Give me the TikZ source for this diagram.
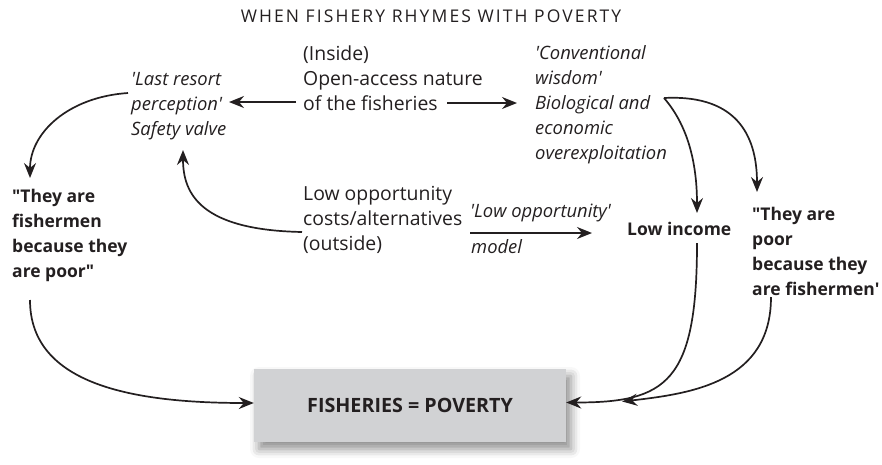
\documentclass[tikz,border=0pt]{standalone}
\usepackage{fontspec}
\setmainfont{Open Sans}
\usetikzlibrary{arrows.meta,shadows.blur}
\definecolor{ink}{HTML}{231F20}
\definecolor{boxgray}{HTML}{D1D2D4}
\newcommand{\sq}{\textquotesingle}
\newcommand{\dq}{\textquotedbl}
% a left-aligned block whose baseline is that of its first line
\newcommand{\lines}[1]{\begin{tabular}[t]{@{}l@{}}#1\end{tabular}}
\begin{document}
\begin{tikzpicture}[x=1pt,y=-1pt,
  txt/.style={anchor=base west,inner sep=0pt,text=ink,
    font=\fontsize{19.4}{25}\selectfont},
  itxt/.style={txt,font=\fontsize{18.4}{25}\selectfont\itshape},
  btxt/.style={txt,font=\fontsize{17.5}{25}\selectfont\bfseries},
  arr/.style={draw=ink,line width=1.7pt,
    -{Stealth[length=15pt,width=12pt,inset=5pt]}},
  result/.style={fill=boxgray,draw=none,minimum width=312pt,minimum height=73pt,
    inner sep=0pt,text=ink,font=\fontsize{19.7}{22}\selectfont\bfseries,
    blur shadow={shadow xshift=5pt,shadow yshift=-7pt,shadow blur radius=9pt,
      shadow opacity=45}}]
\useasboundingbox (0,0) rectangle (882,464);

% heading
\node[anchor=base,inner sep=0pt,text=ink,
  font=\fontsize{17.5}{20}\selectfont\addfontfeature{LetterSpace=12}]
  (title) at (431,22) {WHEN FISHERY RHYMES WITH POVERTY};

% text blocks
\node[txt] (inside) at (303,60) {\lines{(Inside)\\Open-access nature\\of the fisheries}};
\node[itxt] (last) at (131,85) {\lines{\sq Last resort\\perception\sq\\Safety valve}};
\node[itxt] (conv) at (535,59)
  {\lines{\sq Conventional\\wisdom\sq\\Biological and\\economic\\overexploitation}};
\node[txt] (lowopp) at (303,200) {\lines{Low opportunity\\costs/alternatives\\(outside)}};
\node[itxt] (modeltop) at (470,217) {\sq Low opportunity\sq};
\node[itxt] (modelbot) at (471,253) {model};
\node[btxt] (income) at (627,235) {Low income};
\node[btxt] (leftq) at (12,202)
  {\lines{\dq They are\\fishermen\\because they\\are poor\dq}};
\node[btxt] (rightq) at (752,220)
  {\lines{\dq They are\\poor\\because they\\are fishermen\sq}};

% result box
\node[result] (box) at (410,405.5) {FISHERIES = POVERTY};

% connectors
\draw[arr] ([shift={(-7,42)}]inside.base west) -- ([shift={(98,17)}]last.base west);
\draw[arr] ([shift={(144,43)}]inside.base west) -- ([shift={(-18,44)}]conv.base west);
\draw[arr] ([shift={(129,39)}]conv.base west)
  .. controls +(26,30) and +(0,-45) .. ([shift={(70,-22)}]income.base west);
\draw[arr] ([shift={(129,39)}]conv.base west)
  .. controls +(78,-4) and +(0,-50) .. ([shift={(5,-28)}]rightq.base west);
\draw[arr] ([shift={(-1,32)}]lowopp.base west)
  .. controls +(-100,-2) and +(0,45) .. ([shift={(52,65)}]last.base west);
\draw[arr] ([shift={(-3,8)}]last.base west)
  .. controls +(-60,4) and +(0,-45) .. ([shift={(18,-24)}]leftq.base west);
\draw[arr] ([shift={(167,33)}]lowopp.base west) -- ([shift={(-35,-2)}]income.base west);
\draw[arr] ([shift={(18,98)}]leftq.base west)
  .. controls +(0,85) and +(-120,0) .. ([yshift=2.5pt]box.west);
\draw[arr] ([shift={(70,8)}]income.base west)
  .. controls +(0,140) and +(100,0) .. ([yshift=3pt]box.east);
\draw[arr] ([shift={(19,77)}]rightq.base west)
  .. controls +(0,85) and +(70,-8) .. ([shift={(56,-4)}]box.east);
\end{tikzpicture}
\end{document}
